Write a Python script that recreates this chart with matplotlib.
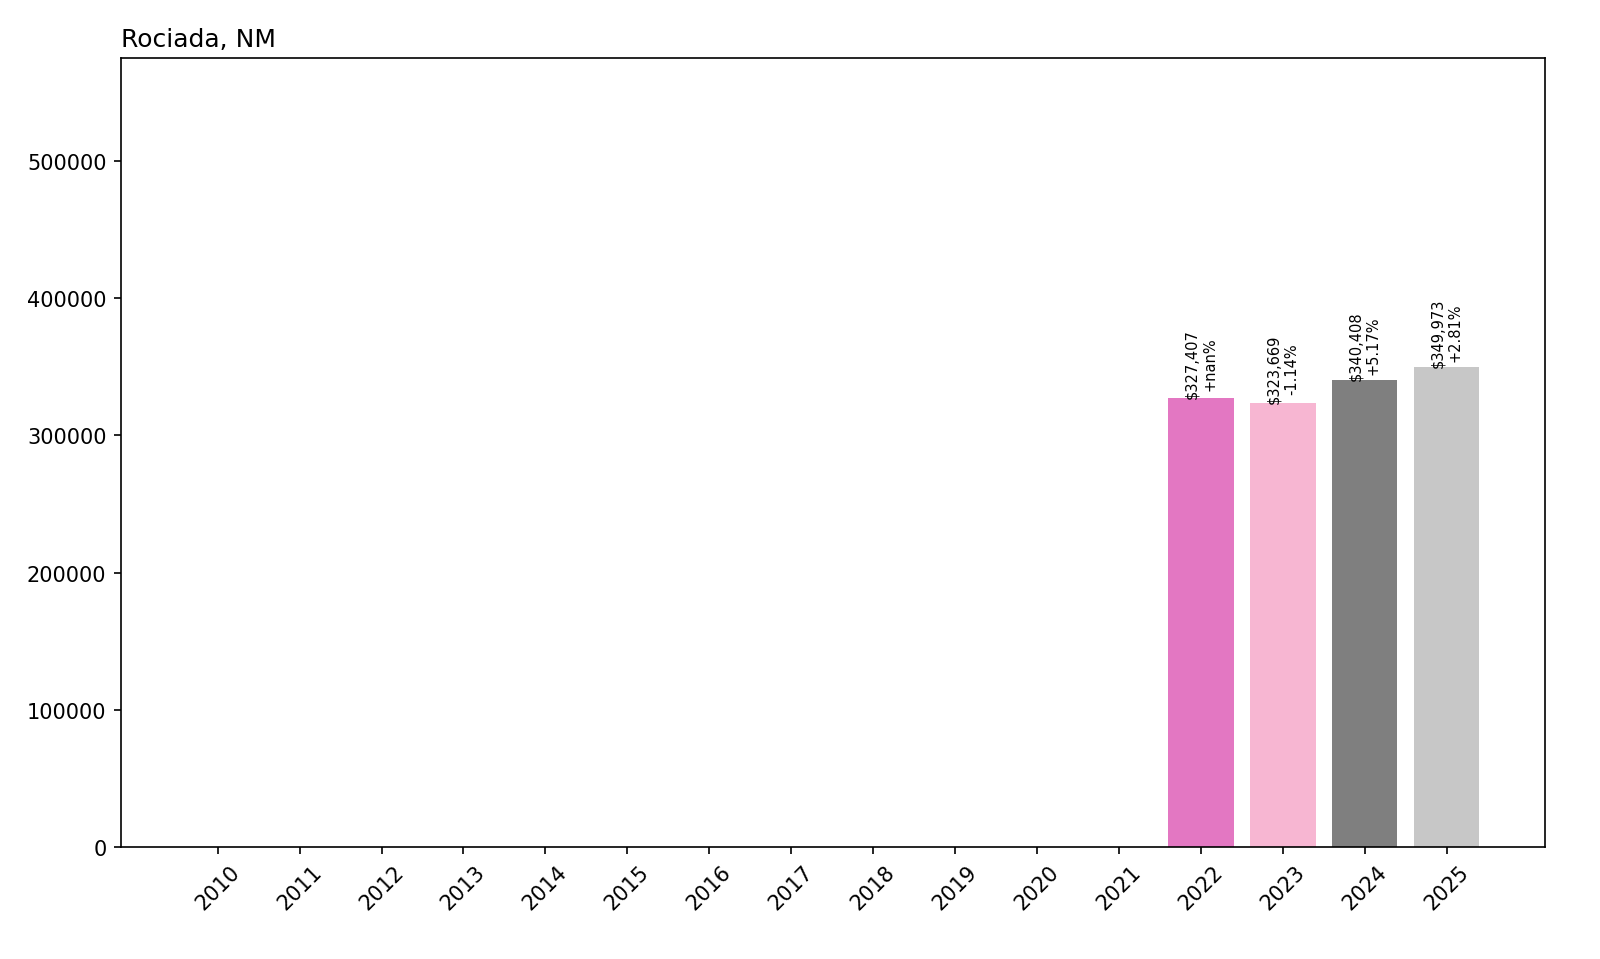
import numpy as np
import pandas as pd
import matplotlib
matplotlib.use('Agg')
import matplotlib.pyplot as plt

# Home values by year (years before 2022 have no data)
years = list(range(2010, 2026))
values = [np.nan] * 12 + [327407, 323669, 340408, 349973]
title = 'Rociada, NM'

def main():
    s = pd.Series(values, index=years, dtype=float)
    pct = s.pct_change(fill_method=None) * 100

    fig = plt.figure(figsize=(16 / 1.5, 9.6 / 1.5), dpi=150)
    ax = fig.add_axes([0.0756, 0.1167, 0.89, 0.8218])

    colors = plt.cm.tab20(np.arange(len(years)) % 20)
    bars = ax.bar(years, s.values, width=0.8, color=colors)

    for yr, b in zip(years, bars):
        v = s[yr]
        if np.isnan(v):
            continue
        label = '${:,.0f}\n{:+.2f}%'.format(v, pct[yr])
        ax.text(b.get_x() + b.get_width() / 2, v, label,
                rotation=90, ha='center', va='bottom', fontsize=7)

    ax.set_xticks(years)
    ax.set_xticklabels([str(y) for y in years], rotation=45)
    ax.set_xlim(2008.82, 2026.2)
    ax.set_ylim(0, 575000)
    ax.set_title(title, loc='left')

    fig.savefig('out.png', dpi=150)

if __name__ == '__main__':
    main()
